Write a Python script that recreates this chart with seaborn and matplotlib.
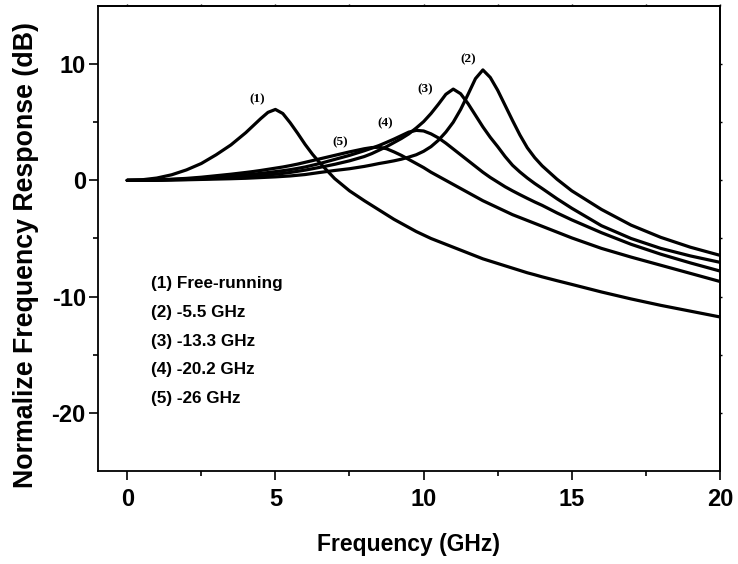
import numpy as np
import pandas as pd
import matplotlib
matplotlib.use('Agg')
import matplotlib.pyplot as plt
import seaborn as sns

# frequency grid (GHz) shared by all curves
freq = [0, 0.5, 1, 1.5, 2, 2.5, 3, 3.5, 4, 4.25, 4.5, 4.75, 5, 5.25, 5.5, 5.75,
        6, 6.25, 6.5, 7, 7.5, 8, 8.25, 8.5, 8.75, 9, 9.25, 9.5, 9.75, 10,
        10.25, 10.5, 10.75, 11, 11.25, 11.5, 11.75, 12, 12.25, 12.5, 12.75, 13,
        13.25, 13.5, 13.75, 14, 14.5, 15, 16, 17, 18, 19, 20]

# normalized response (dB)
resp_free = [0, 0.05, 0.2, 0.48, 0.9, 1.45, 2.2, 3.05, 4.1, 4.7, 5.3, 5.85, 6.1,
             5.75, 4.95, 4.05, 3.1, 2.25, 1.5, 0.15, -0.9, -1.75, -2.15, -2.55,
             -2.95, -3.35, -3.7, -4.05, -4.4, -4.7, -5.0, -5.25, -5.5, -5.75,
             -6.0, -6.25, -6.5, -6.75, -6.95, -7.15, -7.35, -7.55, -7.75, -7.95,
             -8.12, -8.3, -8.63, -8.95, -9.6, -10.2, -10.75, -11.25, -11.75]
resp_55 = [0, 0.0, 0.01, 0.03, 0.05, 0.08, 0.11, 0.14, 0.18, 0.21, 0.24, 0.27,
           0.3, 0.34, 0.38, 0.44, 0.5, 0.59, 0.68, 0.85, 1.0, 1.2, 1.32, 1.45,
           1.56, 1.68, 1.82, 2.0, 2.2, 2.5, 2.9, 3.45, 4.15, 5.0, 6.1, 7.4, 8.75,
           9.5, 8.85, 7.75, 6.45, 5.15, 3.9, 2.8, 1.95, 1.25, 0.1, -0.9, -2.5,
           -3.85, -4.9, -5.75, -6.45]
resp_133 = [0, 0.005, 0.02, 0.05, 0.08, 0.13, 0.18, 0.25, 0.33, 0.37, 0.42, 0.47,
            0.53, 0.6, 0.68, 0.78, 0.88, 1.0, 1.12, 1.38, 1.68, 2.05, 2.3, 2.6,
            2.9, 3.25, 3.6, 4.0, 4.5, 5.05, 5.75, 6.55, 7.4, 7.85, 7.45, 6.6,
            5.6, 4.6, 3.7, 2.9, 2.05, 1.3, 0.72, 0.2, -0.27, -0.7, -1.58, -2.4,
            -3.9, -5.0, -5.85, -6.5, -7.05]
resp_202 = [0, 0.01, 0.03, 0.07, 0.12, 0.19, 0.28, 0.37, 0.47, 0.53, 0.6, 0.67,
            0.75, 0.83, 0.92, 1.03, 1.15, 1.3, 1.45, 1.8, 2.15, 2.55, 2.77, 3.0,
            3.27, 3.55, 3.85, 4.15, 4.3, 4.25, 4.0, 3.65, 3.2, 2.7, 2.2, 1.7,
            1.2, 0.7, 0.25, -0.15, -0.55, -0.9, -1.23, -1.55, -1.86, -2.15, -2.8,
            -3.4, -4.5, -5.5, -6.35, -7.1, -7.8]
resp_26 = [0, 0.01, 0.04, 0.1, 0.17, 0.27, 0.4, 0.53, 0.68, 0.76, 0.85, 0.95,
           1.05, 1.15, 1.27, 1.4, 1.55, 1.7, 1.85, 2.15, 2.45, 2.72, 2.82, 2.85,
           2.72, 2.45, 2.15, 1.8, 1.45, 1.1, 0.7, 0.35, 0.0, -0.35, -0.7, -1.05,
           -1.4, -1.75, -2.05, -2.35, -2.65, -2.95, -3.2, -3.45, -3.7, -3.95,
           -4.45, -4.95, -5.85, -6.6, -7.3, -8.0, -8.7]

curve_ids = ['(1)', '(2)', '(3)', '(4)', '(5)']
legend_text = ['(1) Free-running', '(2) -5.5 GHz', '(3) -13.3 GHz',
               '(4) -20.2 GHz', '(5) -26 GHz']
# curve tag positions (GHz, dB)
tag_x = [4.4, 11.5, 10.05, 8.7, 7.2]
tag_y = [7.0, 10.4, 7.8, 4.9, 3.3]

df = pd.concat([
    pd.DataFrame({'freq': freq, 'resp': r, 'curve': c})
    for c, r in zip(curve_ids, [resp_free, resp_55, resp_133, resp_202, resp_26])
])

sns.set_theme(style='ticks')
plt.rcParams['font.family'] = ['Liberation Sans', 'DejaVu Sans']
plt.rcParams['axes.unicode_minus'] = False
for k in ['text.color', 'axes.labelcolor', 'xtick.color', 'ytick.color', 'axes.edgecolor']:
    plt.rcParams[k] = 'black'

fig = plt.figure(figsize=(7.38, 5.64), dpi=100)
ax = fig.add_axes([0.1322, 0.1649, 0.8434, 0.8245])

sns.lineplot(data=df, x='freq', y='resp', hue='curve',
             palette=['black'] * 5, linewidth=2.3, legend=False, ax=ax)

ax.set_xlim(-1, 20)
ax.set_ylim(-25, 15)
ax.set_xticks([0, 5, 10, 15, 20])
ax.set_xticks([2.5, 7.5, 12.5, 17.5], minor=True)
ax.set_yticks([-20, -10, 0, 10])
ax.set_yticks([-15, -5, 5], minor=True)

for s in ax.spines.values():
    s.set_visible(True)
    s.set_linewidth(1.3)
    s.set_color('black')

ax.tick_params(which='major', direction='out', length=6.5, width=1.2,
               labelsize=17, color='black')
ax.tick_params(axis='x', which='major', pad=6)
ax.tick_params(axis='y', which='major', pad=2)
ax.tick_params(which='minor', direction='out', length=3.5, width=1.2, color='black')
for lab in ax.get_xticklabels() + ax.get_yticklabels():
    lab.set_fontweight('bold')

# tiny ticks on top and right frame
top = ax.secondary_xaxis('top')
top.set_xticks([0, 2.5, 5, 7.5, 10, 12.5, 15, 17.5, 20])
top.tick_params(direction='out', length=1.5, width=1.0, labeltop=False)
right = ax.secondary_yaxis('right')
right.set_yticks([-20, -15, -10, -5, 0, 5, 10])
right.tick_params(direction='out', length=1.5, width=1.0, labelright=False)

ax.set_xlabel('Frequency (GHz)', fontsize=16.5, fontweight='bold')
ax.xaxis.set_label_coords(0.5, -0.133)
ax.set_ylabel('Normalize Frequency Response (dB)', fontsize=19.3,
              fontweight='bold')
ax.yaxis.set_label_coords(-0.094, 0.4645)

for t, x, y in zip(curve_ids, tag_x, tag_y):
    ax.text(x, y, t, fontsize=9.5, fontweight='bold', ha='center', va='center',
            family=['Liberation Serif', 'DejaVu Serif'])

for i, t in enumerate(legend_text):
    ax.text(0.8, -8.9 - 2.47 * i, t, fontsize=12.3, fontweight='bold',
            ha='left', va='center')

fig.savefig('out.png', dpi=100)
